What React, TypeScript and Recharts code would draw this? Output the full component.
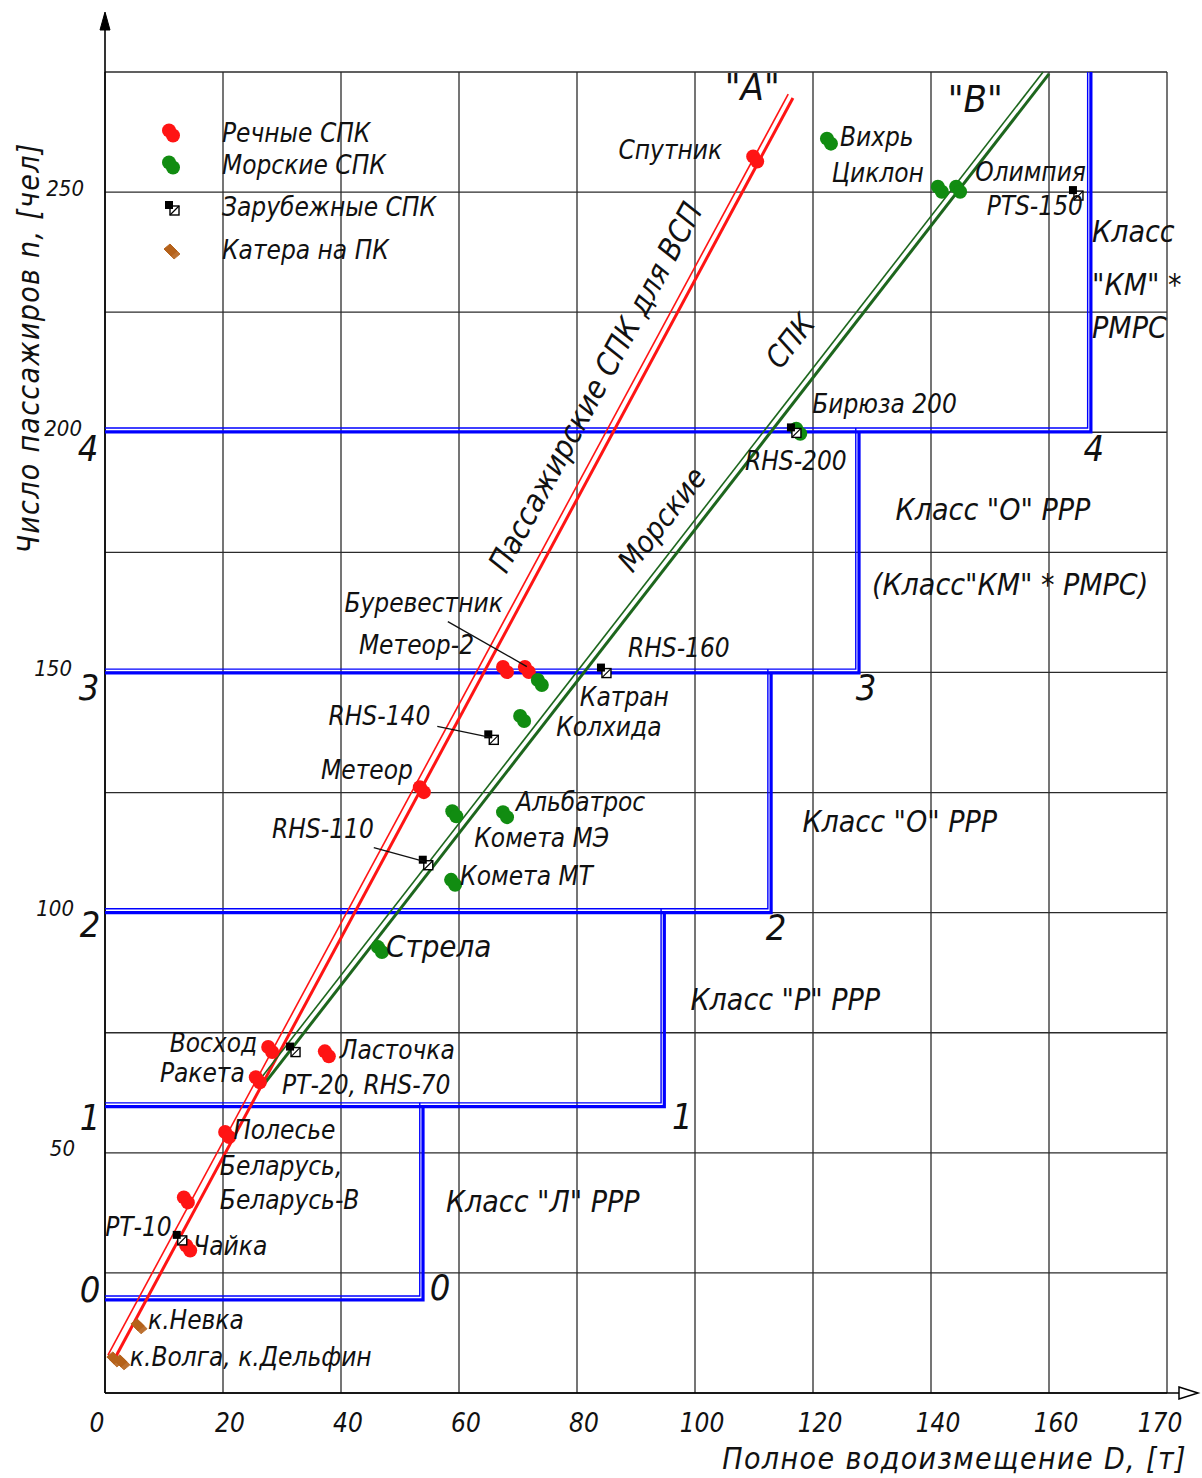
import React from 'react';
import { ComposedChart, Scatter, XAxis, YAxis, CartesianGrid, ReferenceLine, Legend } from 'recharts';

const FONT = "'DejaVu Sans Condensed','Liberation Sans Narrow','DejaVu Sans',sans-serif";
const INK = '#111';
const RED = '#ff1414';
const GREEN_DOT = '#118c11';
const GREEN_LINE = '#1d661d';
const BLUE = '#0000ff';
const BROWN = '#b5621b';

// ---------- axes ----------
const xTicks = [0, 20, 40, 60, 80, 100, 120, 140, 160, 180];
const xTickLabels = ['0', '20', '40', '60', '80', '100', '120', '140', '160', '170'];
const yTicks = [0, 25, 50, 75, 100, 125, 150, 175, 200, 225, 250, 275];
const yLabelled = [50, 100, 150, 200, 250];
const xTitle = 'Полное водоизмещение D, [т]';
const yTitle = 'Число пассажиров n, [чел]';

// ---------- data: river hydrofoils ----------
const riverNames = ['Спутник', 'Метеор-2', 'Буревестник', 'Метеор', 'Восход', 'Ракета', 'Ласточка', 'Полесье', 'Беларусь', 'Чайка'];
const riverD = [110.2, 67.8, 71.5, 53.7, 28.0, 25.9, 37.6, 20.7, 13.7, 14.1];
const riverN = [256.9, 150.6, 150.6, 125.6, 71.5, 65.2, 70.6, 53.8, 40.2, 30.2];

// ---------- data: sea hydrofoils ----------
const seaNames = ['Вихрь', 'Циклон', 'Олимпия', 'Бирюза 200', 'Катран', 'Колхида', 'Альбатрос', 'Комета МЭ', 'Комета МТ', 'Стрела'];
const seaD = [122.7, 141.5, 144.6, 117.5, 73.7, 70.7, 67.8, 59.2, 59.0, 46.6];
const seaN = [260.6, 250.6, 250.6, 200.2, 147.9, 140.4, 120.4, 120.6, 106.3, 92.3];

// ---------- data: foreign hydrofoils ----------
const foreignNames = ['PTS-150', 'RHS-200', 'RHS-160', 'RHS-140', 'RHS-110', 'РТ-20, RHS-70', 'РТ-10'];
const foreignD = [164.4, 116.6, 84.4, 65.3, 54.2, 31.7, 12.5];
const foreignN = [250.0, 200.6, 150.6, 136.7, 110.6, 71.7, 32.5];

// ---------- data: hydrofoil boats ----------
const boatNames = ['к.Невка', 'к.Волга', 'к.Дельфин'];
const boatD = [5.6, 1.5, 2.7];
const boatN = [14.2, 7.3, 6.7];

// ---------- trend lines ----------
const lineA1 = [{ x: 0.5, y: 7.9 }, { x: 115.8, y: 270.4 }];
const lineA2 = [{ x: 1.7, y: 7.3 }, { x: 116.6, y: 269.6 }];
const lineB1 = [{ x: 26.1, y: 65.0 }, { x: 159.0, y: 275 }];
const lineB2 = [{ x: 26.9, y: 64.2 }, { x: 160.0, y: 274.6 }];

// ---------- class boundaries ----------
const classNumbers = ['0', '1', '2', '3', '4'];
const classLevels = [19.4, 59.6, 100, 149.9, 200.1];
const classLimitD = [53.9, 94.8, 112.9, 127.8, 167.1];
const topLevel = 275;

const legendNames = ['Речные СПК', 'Морские СПК', 'Зарубежные СПК', 'Катера на ПК'];
const legendKinds = ['river', 'sea', 'foreign', 'boat'];

const toPoints = (names: string[], d: number[], n: number[]) => names.map((name, i) => ({ name, x: d[i], y: n[i] }));
const riverPts = toPoints(riverNames, riverD, riverN);
const seaPts = toPoints(seaNames, seaD, seaN);
const foreignPts = toPoints(foreignNames, foreignD, foreignN);
const boatPts = toPoints(boatNames, boatD, boatN);

const THIN_DX = 0.55;
const THIN_DY = 0.8;
const classPoly = (i: number, thin: boolean) => {
  const ox = thin ? -THIN_DX : 0;
  const oy = thin ? THIN_DY : 0;
  const next = i + 1 < classLevels.length ? classLevels[i + 1] + oy : topLevel;
  return [
    { x: 0, y: classLevels[i] + oy },
    { x: classLimitD[i] + ox, y: classLevels[i] + oy },
    { x: classLimitD[i] + ox, y: next },
  ];
};
const classCorners = [
  ...classLevels.map((L, i) => ({ x: 0, y: L, name: 'L' + classNumbers[i], text: classNumbers[i] })),
  ...classLevels.map((L, i) => ({ x: classLimitD[i], y: L, name: 'R' + classNumbers[i], text: classNumbers[i] })),
];

// ---------- free annotations ----------
const notes = [
  { text: '"А"', x: 109.7, y: 271.9, size: 38, angle: 0, anchor: 'middle' },
  { text: '"В"', x: 147.5, y: 269.4, size: 38, angle: 0, anchor: 'middle' },
  { text: 'Пассажирские СПК для ВСП', x: 83.1, y: 209.4, size: 31, angle: -61.6, anchor: 'middle' },
  { text: 'Морские', x: 94.4, y: 181.9, size: 30, angle: -52, anchor: 'middle' },
  { text: 'СПК', x: 116.1, y: 219, size: 30, angle: -52, anchor: 'middle' },
  { text: 'Класс "Л" РРР', x: 74.2, y: 39.8, size: 30, angle: 0, anchor: 'middle' },
  { text: 'Класс "Р" РРР', x: 115.3, y: 81.9, size: 30, angle: 0, anchor: 'middle' },
  { text: 'Класс "О" РРР', x: 134.7, y: 119, size: 30, angle: 0, anchor: 'middle' },
  { text: 'Класс "О" РРР', x: 150.5, y: 184, size: 30, angle: 0, anchor: 'middle' },
  { text: '(Класс"КМ" * РМРС)', x: 153.4, y: 168.3, size: 30, angle: 0, anchor: 'middle' },
  { text: 'Класс', x: 167.3, y: 241.9, size: 30, angle: 0, anchor: 'start' },
  { text: '"КМ" *', x: 167.3, y: 230.8, size: 30, angle: 0, anchor: 'start' },
  { text: 'РМРС', x: 167.3, y: 221.9, size: 30, angle: 0, anchor: 'start' },
];

type Lay = { dx: number; dy: number; anchor: 'start' | 'end' | 'middle'; size?: number; text?: string; leader?: number[] };
const labelLayout: Record<string, Lay> = {
  'Спутник': { dx: -33, dy: -9, anchor: 'end' },
  'Метеор-2': { dx: -31, dy: -25, anchor: 'end' },
  'Буревестник': { dx: -24, dy: -67, anchor: 'end', leader: [-79, -48, 0, -3] },
  'Метеор': { dx: -9, dy: -20, anchor: 'end' },
  'Восход': { dx: -13, dy: -7, anchor: 'end' },
  'Ракета': { dx: -13, dy: -7, anchor: 'end' },
  'Ласточка': { dx: 13, dy: -4, anchor: 'start' },
  'Полесье': { dx: 6, dy: -5, anchor: 'start' },
  'Беларусь': { dx: 34, dy: -34, anchor: 'start', text: 'Беларусь,|Беларусь-В' },
  'Чайка': { dx: 5, dy: -2, anchor: 'start' },
  'Вихрь': { dx: 11, dy: -4, anchor: 'start' },
  'Циклон': { dx: -16, dy: -16, anchor: 'end' },
  'Олимпия': { dx: 17, dy: -17, anchor: 'start' },
  'Бирюза 200': { dx: 14, dy: -27, anchor: 'start' },
  'Катран': { dx: 40, dy: 14, anchor: 'start' },
  'Колхида': { dx: 34, dy: 8, anchor: 'start' },
  'Альбатрос': { dx: 11, dy: -13, anchor: 'start' },
  'Комета МЭ': { dx: 20, dy: 24, anchor: 'start' },
  'Комета МТ': { dx: 7, dy: -6, anchor: 'start' },
  'Стрела': { dx: 6, dy: -4, anchor: 'start', size: 31 },
  'PTS-150': { dx: 8, dy: 14, anchor: 'end' },
  'RHS-200': { dx: -48, dy: 32, anchor: 'start' },
  'RHS-160': { dx: 25, dy: -22, anchor: 'start' },
  'RHS-140': { dx: -60, dy: -20, anchor: 'end', leader: [-53, -10, 0, 1] },
  'RHS-110': { dx: -51, dy: -33, anchor: 'end', leader: [-51, -14, 0, 0] },
  'РТ-20, RHS-70': { dx: -10, dy: 36, anchor: 'start' },
  'РТ-10': { dx: -7, dy: -10, anchor: 'end' },
  'к.Невка': { dx: 10, dy: -5, anchor: 'start' },
  'к.Волга': { dx: 16, dy: -1, anchor: 'start', text: 'к.Волга, к.Дельфин' },
  L0: { dx: -15, dy: -10, anchor: 'middle', size: 36 },
  L1: { dx: -15, dy: 11, anchor: 'middle', size: 36 },
  L2: { dx: -15, dy: 12, anchor: 'middle', size: 36 },
  L3: { dx: -16, dy: 15, anchor: 'middle', size: 36 },
  L4: { dx: -17, dy: 17, anchor: 'middle', size: 36 },
  R0: { dx: 17, dy: -12, anchor: 'middle', size: 36 },
  R1: { dx: 18, dy: 10, anchor: 'middle', size: 36 },
  R2: { dx: 5, dy: 15, anchor: 'middle', size: 36 },
  R3: { dx: 7, dy: 15, anchor: 'middle', size: 36 },
  R4: { dx: 3, dy: 17, anchor: 'middle', size: 36 },
};
const yTickRightGap: Record<number, number> = { 50: 22, 100: 23, 150: 25, 200: 15, 250: 13 };

const txtStyle = { fontFamily: FONT, fontStyle: 'italic' as const, fill: INK };

function Marker({ kind, cx, cy }: { kind: string; cx: number; cy: number }) {
  if (kind === 'river' || kind === 'sea') {
    const c = kind === 'river' ? RED : GREEN_DOT;
    return (
      <g>
        <circle cx={cx - 2} cy={cy - 2.5} r={7} fill={c} />
        <circle cx={cx + 2} cy={cy + 2.5} r={7} fill={c} />
      </g>
    );
  }
  if (kind === 'foreign') {
    return (
      <g>
        <rect x={cx - 1} y={cy - 1} width={9} height={9} fill="#fff" stroke="#000" strokeWidth={1.4} />
        <line x1={cx - 1} y1={cy + 8} x2={cx + 8} y2={cy - 1} stroke="#000" strokeWidth={1.2} />
        <rect x={cx - 6} y={cy - 6} width={8} height={8} fill="#000" />
      </g>
    );
  }
  const d = (ox: number, oy: number) =>
    `M${cx - 7 + ox},${cy - 1 + oy} L${cx - 1 + ox},${cy - 6 + oy} L${cx + 6 + ox},${cy + 1 + oy} L${cx + ox},${cy + 6 + oy} Z`;
  return (
    <g>
      <path d={d(0, 0)} fill={BROWN} stroke={BROWN} strokeWidth={1} />
      <path d={d(3, 3)} fill={BROWN} stroke={BROWN} strokeWidth={1} opacity={0.9} />
    </g>
  );
}

function PointLabel({ name, text, cx, cy }: { name: string; text?: string; cx: number; cy: number }) {
  const lay = labelLayout[name];
  if (!lay) return null;
  const lines = (lay.text ?? text ?? name).split('|');
  const size = lay.size ?? 26;
  return (
    <g>
      {lay.leader && (
        <line x1={cx + lay.leader[0]} y1={cy + lay.leader[1]} x2={cx + lay.leader[2]} y2={cy + lay.leader[3]} stroke={INK} strokeWidth={1.3} />
      )}
      {lines.map((t, i) => (
        <text key={i} x={cx + lay.dx} y={cy + lay.dy + i * 34} textAnchor={lay.anchor} dominantBaseline="central" fontSize={size} style={txtStyle}>
          {t}
        </text>
      ))}
    </g>
  );
}

const pointShape = (kind: string) => (p: any) => (
  <g>
    <Marker kind={kind} cx={p.cx} cy={p.cy} />
    <PointLabel name={p.payload.name} cx={p.cx} cy={p.cy} />
  </g>
);

const noShape = () => <g />;

const cornerShape = (p: any) => <PointLabel name={p.payload.name} text={p.payload.text} cx={p.cx} cy={p.cy} />;

const noteShape = (p: any) => {
  const n = p.payload;
  return (
    <text
      x={p.cx}
      y={p.cy}
      textAnchor={n.anchor}
      dominantBaseline="central"
      fontSize={n.size}
      transform={n.angle ? `rotate(${n.angle} ${p.cx} ${p.cy})` : undefined}
      style={txtStyle}
    >
      {n.text}
    </text>
  );
};

const XTick = (p: any) => {
  const i = xTicks.indexOf(p.payload.value);
  const off = i === 0 ? -8 : i === xTicks.length - 1 ? -7 : 7;
  return (
    <text x={p.x + off} y={p.y + 22} textAnchor="middle" dominantBaseline="central" fontSize={26} style={txtStyle}>
      {xTickLabels[i]}
    </text>
  );
};

const YTick = (p: any) => {
  const v = p.payload.value;
  if (!yLabelled.includes(v)) return <g />;
  return (
    <text x={p.x - (yTickRightGap[v] ?? 13)} y={p.y - 4} textAnchor="end" dominantBaseline="central" fontSize={22} style={txtStyle}>
      {String(v)}
    </text>
  );
};

const XTitle = (p: any) => {
  const vb = p.viewBox ?? { x: 105, y: 1393, width: 1062, height: 85 };
  return (
    <text x={vb.x + vb.width + 20} y={vb.y + 65} textAnchor="end" dominantBaseline="central" fontSize={30} letterSpacing={1.4} style={txtStyle}>
      {xTitle}
    </text>
  );
};

const YTitle = (p: any) => {
  const vb = p.viewBox ?? { x: 0, y: 72, width: 105, height: 1321 };
  const x = vb.x + 28;
  const y = vb.y + 276;
  return (
    <text x={x} y={y} textAnchor="middle" dominantBaseline="central" fontSize={30} letterSpacing={1.3} transform={`rotate(-90 ${x} ${y})`} style={txtStyle}>
      {yTitle}
    </text>
  );
};

const yAxisArrow = (p: any) => (
  <g>
    <line x1={p.x1} y1={p.y1} x2={p.x2} y2={p.y2 - 58} stroke="#000" strokeWidth={1.6} />
    <polygon points={`${p.x2 - 5},${p.y2 - 42} ${p.x2},${p.y2 - 60} ${p.x2 + 5},${p.y2 - 42}`} fill="#000" stroke="#000" strokeWidth={1} />
  </g>
);

const xAxisArrow = (p: any) => (
  <g>
    <line x1={p.x1} y1={p.y1} x2={p.x2 + 30} y2={p.y2} stroke="#000" strokeWidth={1.6} />
    <polygon points={`${p.x2 + 12},${p.y2 - 6} ${p.x2 + 31},${p.y2} ${p.x2 + 12},${p.y2 + 6}`} fill="#fff" stroke="#000" strokeWidth={1.5} />
  </g>
);

const LegendBox = () => (
  <svg width={300} height={160}>
    {legendNames.map((name, i) => {
      const rowY = [21, 53, 95, 138][i];
      return (
        <g key={name}>
          <Marker kind={legendKinds[i]} cx={21} cy={rowY} />
          <text x={72} y={rowY} dominantBaseline="central" fontSize={26} style={txtStyle}>
            {name}
          </text>
        </g>
      );
    })}
  </svg>
);

export default function App() {
  return (
    <div style={{ position: 'absolute', left: 0, top: 0, width: 1202, height: 1478, background: '#fff' }}>
      <ComposedChart width={1202} height={1478} margin={{ top: 72, right: 35, left: 0, bottom: 0 }}>
        <CartesianGrid stroke="#2b2b2b" strokeWidth={1.3} />
        <XAxis
          type="number"
          dataKey="x"
          domain={[0, 180]}
          ticks={xTicks}
          interval={0}
          height={85}
          tick={XTick}
          tickLine={false}
          axisLine={false}
          label={<XTitle />}
        />
        <YAxis
          type="number"
          dataKey="y"
          domain={[0, 275]}
          ticks={yTicks}
          interval={0}
          width={105}
          tick={YTick}
          tickLine={false}
          axisLine={false}
          label={<YTitle />}
        />
        <ReferenceLine segment={[{ x: 0, y: 0 }, { x: 0, y: 275 }]} shape={yAxisArrow} />
        <ReferenceLine segment={[{ x: 0, y: 0 }, { x: 180, y: 0 }]} shape={xAxisArrow} />

        {classLevels.map((_, i) => (
          <Scatter key={'ct' + i} data={classPoly(i, true)} line={{ stroke: BLUE, strokeWidth: 1.4 }} shape={noShape} isAnimationActive={false} legendType="none" />
        ))}
        {classLevels.map((_, i) => (
          <Scatter key={'ck' + i} data={classPoly(i, false)} line={{ stroke: BLUE, strokeWidth: 3.2 }} shape={noShape} isAnimationActive={false} legendType="none" />
        ))}

        <Scatter data={lineA1} line={{ stroke: RED, strokeWidth: 1.6 }} shape={noShape} isAnimationActive={false} legendType="none" />
        <Scatter data={lineA2} line={{ stroke: RED, strokeWidth: 3 }} shape={noShape} isAnimationActive={false} legendType="none" />
        <Scatter data={lineB1} line={{ stroke: GREEN_LINE, strokeWidth: 1.6 }} shape={noShape} isAnimationActive={false} legendType="none" />
        <Scatter data={lineB2} line={{ stroke: GREEN_LINE, strokeWidth: 3 }} shape={noShape} isAnimationActive={false} legendType="none" />

        <Scatter data={classCorners} shape={cornerShape} isAnimationActive={false} legendType="none" />
        <Scatter data={notes} shape={noteShape} isAnimationActive={false} legendType="none" />

        <Scatter name="Речные СПК" data={riverPts} shape={pointShape('river')} isAnimationActive={false} />
        <Scatter name="Морские СПК" data={seaPts} shape={pointShape('sea')} isAnimationActive={false} />
        <Scatter name="Зарубежные СПК" data={foreignPts} shape={pointShape('foreign')} isAnimationActive={false} />
        <Scatter name="Катера на ПК" data={boatPts} shape={pointShape('boat')} isAnimationActive={false} />

        <Legend
          layout="horizontal"
          verticalAlign="middle"
          align="center"
          wrapperStyle={{ left: 150, top: 112, width: 300, height: 160 }}
          content={() => <LegendBox />}
        />
      </ComposedChart>
    </div>
  );
}
